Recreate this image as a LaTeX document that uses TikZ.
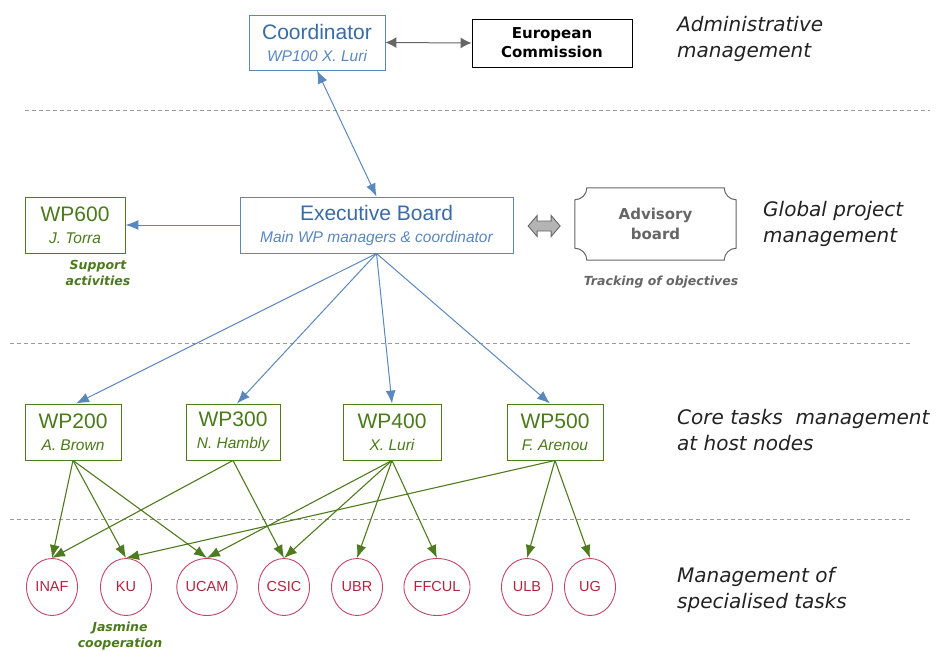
\documentclass[tikz,border=0pt]{standalone}
\usepackage{fontspec}
\setmainfont{Liberation Sans}
\newfontfamily\dvs{DejaVu Sans}
\usetikzlibrary{arrows.meta,calc,shapes.geometric}

\definecolor{bl}{HTML}{5B88BC}
\definecolor{bltext}{HTML}{3A6BA5}
\definecolor{blsub}{HTML}{5A87BE}
\definecolor{gr}{HTML}{4F7A1F}
\definecolor{grtext}{HTML}{4A7A1A}
\definecolor{rd}{HTML}{C24563}
\definecolor{rdtext}{HTML}{B5233F}
\definecolor{dashc}{HTML}{9A9A9A}
\definecolor{advg}{HTML}{666666}
\definecolor{arrgray}{HTML}{B4B4B4}
\definecolor{labc}{HTML}{222222}

\newcommand{\twol}[2]{{\fontsize{21}{22}\selectfont #1}\\{\fontsize{15.5}{22}\selectfont\itshape #2}}

\begin{document}
\begin{tikzpicture}[x=1pt,y=-1pt,
  bluebox/.style={draw=bl, line width=0.9pt, fill=white, align=center, inner sep=0pt, text=bltext, font=\fontsize{21}{22}\selectfont},
  greenbox/.style={draw=gr, line width=0.9pt, fill=white, align=center, inner sep=0pt, text=grtext, font=\fontsize{21}{22}\selectfont, minimum height=56},
  org/.style={draw=rd, line width=0.9pt, ellipse, minimum width=51, minimum height=57, inner sep=0pt, text=rdtext, font=\fontsize{14.5}{16}\selectfont},
  bluearr/.style={draw=bl, line width=1pt, -{Latex[length=13pt,width=10pt]}},
  greenarr/.style={draw=gr, line width=1.1pt, -{Latex[length=13pt,width=10pt]}},
  grayarr/.style={draw=advg, line width=1pt, {Latex[length=11pt,width=11pt]}-{Latex[length=11pt,width=11pt]}},
  dashline/.style={draw=dashc, line width=0.9pt, dash pattern=on 4pt off 3pt},
  layerlab/.style={anchor=west, align=left, inner sep=0pt, text=labc, font=\dvs\itshape\fontsize{20}{26}\selectfont},
  note/.style={align=center, inner sep=0pt, font=\dvs\bfseries\itshape\fontsize{12.5}{16}\selectfont}
]
\useasboundingbox (0,0) rectangle (941,650);

% dashed separators
\draw[dashline] (25,110) -- (930,110);
\draw[dashline] (10,343) -- (912,343);
\draw[dashline] (10,519) -- (912,519);

% layer labels
\node[layerlab] (l1) at (677,38.5) {Administrative\\management};
\node[layerlab] (l2) at (763,223.5) {Global project\\management};
\node[layerlab] (l3) at (677,430) {Core tasks\ \ management\\at host nodes};
\node[layerlab] (l4) at (677,590) {Management of\\specialised tasks};

% top level
\node[bluebox, minimum width=136, minimum height=55] (coord) at (317,42.5) {\twol{Coordinator}{\textcolor{blsub}{WP100 X. Luri}}};
\node[draw=black, line width=0.9pt, minimum width=160, minimum height=48, inner sep=0pt, align=center, font=\dvs\bfseries\fontsize{15}{19}\selectfont] (ec) at (552,43) {European\\Commission};

% global level
\node[bluebox, minimum width=273, minimum height=56] (eb) at (376.5,225) {\twol{Executive Board}{\textcolor{blsub}{Main WP managers \& coordinator}}};
\node[greenbox, minimum width=100] (wp600) at (75,225) {\twol{WP600}{J. Torra}};
\node[note, text=grtext] (sup) at (98,273) {Support\\activities};
\node[minimum width=161, minimum height=72, inner sep=0pt, align=center, text=advg, font=\dvs\bfseries\fontsize{15}{20}\selectfont] (adv) at (655.5,224) {Advisory\\board};
\node[note, text=advg, font=\dvs\bfseries\itshape\fontsize{12.5}{14}\selectfont] (track) at (661,282) {Tracking of objectives};

% advisory outline with concave corners
\draw[advg, line width=1pt] ($(adv.north west)+(12,0)$) -- ($(adv.north east)+(-12,0)$)
  arc[start angle=180, end angle=90, radius=12]
  -- ($(adv.south east)+(0,-12)$)
  arc[start angle=270, end angle=180, radius=12]
  -- ($(adv.south west)+(12,0)$)
  arc[start angle=0, end angle=-90, radius=12]
  -- ($(adv.north west)+(0,12)$)
  arc[start angle=90, end angle=0, radius=12] -- cycle;

% gray block double arrow
\coordinate (ba) at ($(eb.east)!0.5!(adv.west)+(0,1.5)$);
\draw[fill=arrgray, draw=advg, line width=0.9pt, shift={(ba)}] (-16,0) -- (-7,-10.5) -- (-7,-5) -- (7,-5) -- (7,-10.5) -- (16,0) -- (7,10.5) -- (7,5) -- (-7,5) -- (-7,10.5) -- cycle;

% WP row
\node[greenbox, minimum width=96] (wp200) at (73,432) {\twol{WP200}{A. Brown}};
\node[greenbox, minimum width=94] (wp300) at (233,432) {\twol{WP300}{N. Hambly}};
\node[greenbox, minimum width=98] (wp400) at (392,432) {\twol{WP400}{X. Luri}};
\node[greenbox, minimum width=96] (wp500) at (555,432) {\twol{WP500}{F. Arenou}};

% organisations
\node[org] (inaf) at (52,587) {INAF};
\node[org] (ku) at (126,587) {KU};
\node[org] (ucam) at (207,587) {UCAM};
\node[org] (csic) at (284,587) {CSIC};
\node[org] (ubr) at (357,587) {UBR};
\node[org] (ffcul) at (437,587) {FFCUL};
\node[org] (ulb) at (527,587) {ULB};
\node[org] (ug) at (590,587) {UG};
\node[note, text=grtext] (jas) at (120,636) {Jasmine\\cooperation};

% connectors
\draw[grayarr] (coord.east) -- (ec.west);
\draw[bluearr, {Latex[length=13pt,width=10pt]}-{Latex[length=13pt,width=10pt]}] (coord.south) -- (eb.north);
\draw[bluearr] (eb.west) -- (wp600.east);
\draw[bluearr] (eb.south) -- ($(wp200.north)+(3,0)$);
\draw[bluearr] (eb.south) -- ($(wp300.north)+(4,0)$);
\draw[bluearr] (eb.south) -- (wp400.north);
\draw[bluearr] (eb.south) -- ($(wp500.north)+(-5,0)$);

\draw[greenarr] (wp200.south) -- (inaf.north);
\draw[greenarr] (wp200.south) -- (ku.north);
\draw[greenarr] (wp200.south) -- (ucam.north);
\draw[greenarr] (wp300.south) -- (inaf.north);
\draw[greenarr] (wp300.south) -- (csic.north);
\draw[greenarr] (wp400.south) -- (ucam.north);
\draw[greenarr] (wp400.south) -- (csic.north);
\draw[greenarr] (wp400.south) -- (ubr.north);
\draw[greenarr] (wp400.south) -- (ffcul.north);
\draw[greenarr] (wp500.south) -- (ku.north);
\draw[greenarr] (wp500.south) -- (ulb.north);
\draw[greenarr] (wp500.south) -- (ug.north);
\end{tikzpicture}
\end{document}
